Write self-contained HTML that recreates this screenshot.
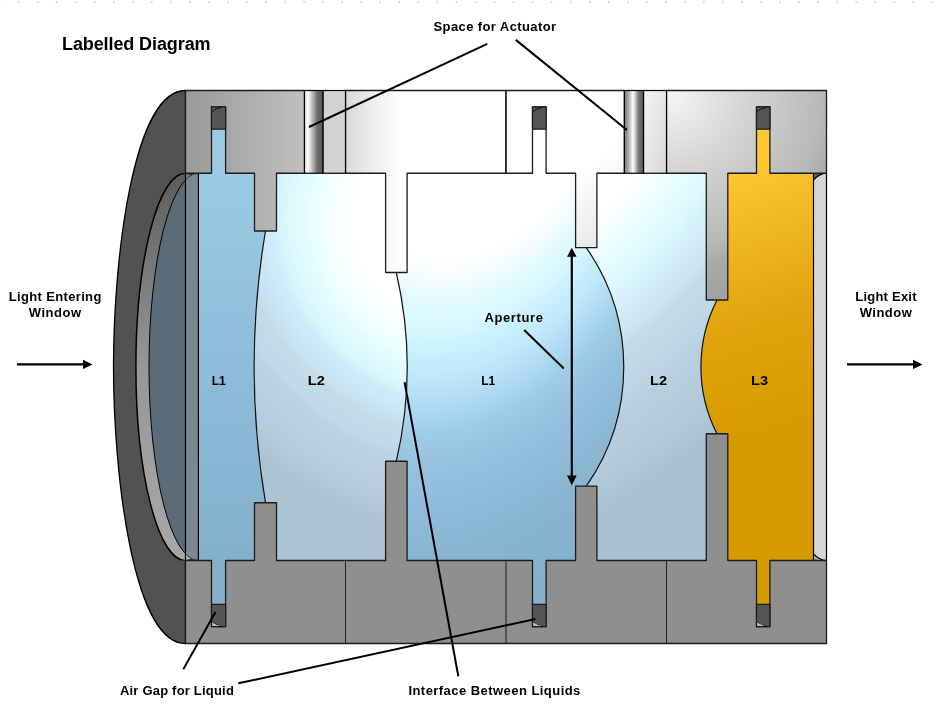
<!DOCTYPE html>
<html><head><meta charset="utf-8">
<style>
html,body{margin:0;padding:0;background:#fff;width:936px;height:720px;overflow:hidden}
svg{display:block;will-change:transform}
text{font-family:"Liberation Sans",sans-serif;font-weight:bold;fill:#000}
</style></head><body>
<svg width="936" height="720" viewBox="0 0 936 720">
<defs>
  <linearGradient id="gA" gradientUnits="userSpaceOnUse" x1="185.5" y1="0" x2="304.5" y2="0">
    <stop offset="0" stop-color="#999999"/>
    <stop offset="1" stop-color="#c0c0c0"/>
  </linearGradient>
  <linearGradient id="gB" gradientUnits="userSpaceOnUse" x1="345.5" y1="0" x2="402" y2="0">
    <stop offset="0" stop-color="#d8d8d8"/>
    <stop offset="0.5" stop-color="#eeeeee"/>
    <stop offset="1" stop-color="#ffffff"/>
  </linearGradient>
  <linearGradient id="gC" gradientUnits="userSpaceOnUse" x1="506" y1="90" x2="624" y2="250">
    <stop offset="0" stop-color="#ffffff"/>
    <stop offset="0.55" stop-color="#ffffff"/>
    <stop offset="1" stop-color="#e2e2e2"/>
  </linearGradient>
  <radialGradient id="gD" gradientUnits="userSpaceOnUse" cx="668" cy="92" r="215">
    <stop offset="0" stop-color="#f6f6f6"/>
    <stop offset="0.37" stop-color="#d4d4d4"/>
    <stop offset="0.73" stop-color="#b8b8b8"/>
    <stop offset="0.82" stop-color="#aaaaaa"/>
    <stop offset="1" stop-color="#a0a0a0"/>
  </radialGradient>
  <radialGradient id="gL1" gradientUnits="userSpaceOnUse" cx="0" cy="0" r="1" gradientTransform="translate(492,0) rotate(14.68) scale(432,752)">
    <stop offset="0" stop-color="#ffffff"/>
    <stop offset="0.35" stop-color="#ffffff"/>
    <stop offset="0.38" stop-color="#f4fcff"/>
    <stop offset="0.41" stop-color="#e2fbff"/>
    <stop offset="0.445" stop-color="#d8f8ff"/>
    <stop offset="0.48" stop-color="#c8f0fe"/>
    <stop offset="0.51" stop-color="#c0eafa"/>
    <stop offset="0.535" stop-color="#b6e0f6"/>
    <stop offset="0.56" stop-color="#acd8f0"/>
    <stop offset="0.59" stop-color="#a0cce6"/>
    <stop offset="0.625" stop-color="#98c4e0"/>
    <stop offset="0.67" stop-color="#92bedb"/>
    <stop offset="0.77" stop-color="#88b4d0"/>
    <stop offset="0.85" stop-color="#85b1cd"/>
    <stop offset="1" stop-color="#85b1cd"/>
  </radialGradient>
  <radialGradient id="gL2a" gradientUnits="userSpaceOnUse" cx="0" cy="0" r="1" gradientTransform="translate(455.16,227.3) rotate(-52.45) scale(299.3,321.7)">
    <stop offset="0" stop-color="#ffffff"/>
    <stop offset="0.32" stop-color="#ffffff"/>
    <stop offset="0.39" stop-color="#f6ffff"/>
    <stop offset="0.45" stop-color="#eaffff"/>
    <stop offset="0.48" stop-color="#e3fcff"/>
    <stop offset="0.505" stop-color="#e0faff"/>
    <stop offset="0.56" stop-color="#d8f4fc"/>
    <stop offset="0.585" stop-color="#d0ecfa"/>
    <stop offset="0.665" stop-color="#c8e1f0"/>
    <stop offset="0.69" stop-color="#c4dce8"/>
    <stop offset="0.76" stop-color="#c0d8e8"/>
    <stop offset="0.78" stop-color="#bcd4e2"/>
    <stop offset="0.92" stop-color="#b4ccdc"/>
    <stop offset="1" stop-color="#abc3d3"/>
  </radialGradient>
  <linearGradient id="gL1a" gradientUnits="userSpaceOnUse" x1="0" y1="173" x2="0" y2="560">
    <stop offset="0" stop-color="#9cc9e3"/>
    <stop offset="0.5" stop-color="#8fbcd8"/>
    <stop offset="1" stop-color="#84b0cc"/>
  </linearGradient>
  <radialGradient id="gL2b" gradientUnits="userSpaceOnUse" cx="0" cy="0" r="1" gradientTransform="translate(525,100) rotate(40) scale(460,690)">
    <stop offset="0" stop-color="#ffffff"/>
    <stop offset="0.29" stop-color="#ffffff"/>
    <stop offset="0.325" stop-color="#f4feff"/>
    <stop offset="0.376" stop-color="#e6fdff"/>
    <stop offset="0.42" stop-color="#def8fe"/>
    <stop offset="0.467" stop-color="#d4eefa"/>
    <stop offset="0.52" stop-color="#cce4f0"/>
    <stop offset="0.543" stop-color="#c4dce8"/>
    <stop offset="0.593" stop-color="#c0d8e6"/>
    <stop offset="0.648" stop-color="#b8d0e0"/>
    <stop offset="0.699" stop-color="#b4ccdc"/>
    <stop offset="0.752" stop-color="#b0c8d8"/>
    <stop offset="0.808" stop-color="#a8c0d0"/>
    <stop offset="1" stop-color="#a8c0d0"/>
  </radialGradient>
  <linearGradient id="gL3" gradientUnits="userSpaceOnUse" x1="720" y1="170" x2="800" y2="420">
    <stop offset="0" stop-color="#ffc733"/>
    <stop offset="0.6" stop-color="#e0a40c"/>
    <stop offset="1" stop-color="#d69b00"/>
  </linearGradient>
  <linearGradient id="gRing" gradientUnits="userSpaceOnUse" x1="0" y1="173" x2="0" y2="560">
    <stop offset="0" stop-color="#5c5c5c"/>
    <stop offset="0.5" stop-color="#979797"/>
    <stop offset="1" stop-color="#a8a8a8"/>
  </linearGradient>
  <linearGradient id="gAct1" x1="0" y1="0" x2="1" y2="0">
    <stop offset="0" stop-color="#dcdcdc"/>
    <stop offset="0.18" stop-color="#ffffff"/>
    <stop offset="0.35" stop-color="#d0d0d0"/>
    <stop offset="0.7" stop-color="#6e6e6e"/>
    <stop offset="1" stop-color="#555555"/>
  </linearGradient>
  <linearGradient id="gAct2" x1="0" y1="0" x2="1" y2="0">
    <stop offset="0" stop-color="#777777"/>
    <stop offset="0.2" stop-color="#a8a8a8"/>
    <stop offset="0.45" stop-color="#ffffff"/>
    <stop offset="0.75" stop-color="#777777"/>
    <stop offset="1" stop-color="#555555"/>
  </linearGradient>
  <linearGradient id="gGap2" x1="0" y1="0" x2="1" y2="1">
    <stop offset="0" stop-color="#f4f4f4"/>
    <stop offset="1" stop-color="#d8d8d8"/>
  </linearGradient>
  <clipPath id="clipL"><rect x="100" y="173.25" width="98.4" height="387.25"/></clipPath>
  <clipPath id="clipR"><rect x="813.5" y="173.25" width="13.1" height="387.25"/></clipPath>
</defs>

<!-- dotted top border -->
<line x1="0" y1="2.1" x2="936" y2="2.1" stroke="#c4c4c4" stroke-width="1.5" stroke-dasharray="1.5 17.54" stroke-dashoffset="-17.75"/>

<!-- title -->
<text x="62" y="50" font-size="18" letter-spacing="-0.1">Labelled Diagram</text>

<!-- cap -->
<path d="M185.5,90.5 C133,90.5 113.5,259.5 113.5,366.75 C113.5,474 133,643.5 185.5,643.5 Z" fill="#525252" stroke="#000" stroke-width="1.3" stroke-linejoin="round"/>

<!-- liquids -->
<path d="M185.5,100 H265.5 V231 A821,821 0 0 0 265.5,502.75 V636 H185.5 Z" fill="url(#gL1a)"/>
<path d="M265.5,100 H396.3 V272.5 A417,417 0 0 1 396.3,461.25 V636 H265.5 V502.75 A821,821 0 0 1 265.5,231 Z" fill="url(#gL2a)"/>
<path d="M396.3,100 H586.3 V247.7 A208.4,208.4 0 0 1 586.3,486.05 V636 H396.3 V461.25 A417,417 0 0 0 396.3,272.5 Z" fill="url(#gL1)"/>
<path d="M586.3,100 H717 V300 A147.2,147.2 0 0 0 717,433.75 V636 H586.3 V486.05 A208.4,208.4 0 0 0 586.3,247.7 Z" fill="url(#gL2b)"/>
<path d="M717,100 H813.5 V636 H717 V433.75 A147.2,147.2 0 0 1 717,300 Z" fill="url(#gL3)"/>

<!-- interface lines -->
<g fill="none" stroke="#111" stroke-width="1.2">
  <path d="M265.5,231 A821,821 0 0 0 265.5,502.75"/>
  <path d="M396.3,272.5 A417,417 0 0 1 396.3,461.25"/>
  <path d="M586.3,247.7 A208.4,208.4 0 0 1 586.3,486.05"/>
  <path d="M717,300 A147.2,147.2 0 0 0 717,433.75"/>
</g>

<!-- left window assembly -->
<g clip-path="url(#clipL)">
  <ellipse cx="185.5" cy="366.875" rx="49.6" ry="193.75" fill="url(#gRing)" stroke="#000" stroke-width="1.5"/>
  <ellipse cx="198.4" cy="366.875" rx="49.4" ry="193.75" fill="#5b6b77" stroke="#000" stroke-width="1"/>
</g>
<rect x="185.5" y="173.25" width="12.9" height="387.25" fill="#ffffff" fill-opacity="0.2" stroke="#000" stroke-width="1.2"/>

<!-- right window -->
<g clip-path="url(#clipR)">
  <rect x="813.5" y="173.25" width="13.1" height="387.25" fill="url(#gRing)"/>
  <ellipse cx="826.6" cy="366.875" rx="49.6" ry="193.75" fill="#d6d6d6" stroke="#000" stroke-width="1.2"/>
</g>
<line x1="813.5" y1="173.25" x2="813.5" y2="560.5" stroke="#000" stroke-width="1.2"/>
<line x1="826.5" y1="173.25" x2="826.5" y2="560.5" stroke="#000" stroke-width="1.2"/>

<!-- housing -->
<g stroke="#1c1c1c" stroke-width="1.3" stroke-linejoin="round">
  <path fill="url(#gA)" d="M185.5,90.5 H304.5 V173.25 H276.5 V231 H254.5 V173.25 H225.6 V106.8 H211.5 V173.25 H185.5 Z"/>
  <path fill="url(#gB)" d="M345.5,90.5 H506 V173.25 H407.1 V272.5 H385.6 V173.25 H345.5 Z"/>
  <path fill="url(#gC)" d="M506,90.5 H624.4 V173.25 H596.9 V247.7 H575.6 V173.25 H546.1 V106.8 H532.5 V173.25 H506 Z"/>
  <path fill="url(#gD)" d="M666.5,90.5 H826.5 V173.25 H769.9 V106.8 H756.5 V173.25 H727.8 V300 H706.3 V173.25 H666.5 Z"/>
  <path fill="#8f8f8f" d="M185.5,643.5 H826.5 V560.5 H769.9 V626.7 H756.5 V560.5 H727.8 V433.75 H706.3 V560.5 H596.9 V486.05 H575.6 V560.5 H546.1 V626.7 H532.5 V560.5 H407.1 V461.25 H385.6 V560.5 H276.5 V502.75 H254.5 V560.5 H225.6 V626.7 H211.5 V560.5 H185.5 Z"/>
</g>

<!-- actuator spaces -->
<rect x="322.9" y="90.5" width="22.6" height="82.75" fill="#d2d2d2" stroke="#000" stroke-width="1.2"/>
<rect x="304.5" y="90.5" width="18.4" height="82.75" fill="url(#gAct1)" stroke="#000" stroke-width="1.2"/>
<rect x="643.5" y="90.5" width="23" height="82.75" fill="url(#gGap2)" stroke="#000" stroke-width="1.2"/>
<rect x="624.4" y="90.5" width="19.1" height="82.75" fill="url(#gAct2)" stroke="#000" stroke-width="1.2"/>
<g stroke="#222" stroke-width="1.05">
  <line x1="506" y1="90.5" x2="506" y2="173.25"/>
  <line x1="345.5" y1="560.5" x2="345.5" y2="643.5"/>
  <line x1="506" y1="560.5" x2="506" y2="643.5"/>
  <line x1="666.5" y1="560.5" x2="666.5" y2="643.5"/>
</g>

<!-- air gaps in slots -->
<g fill="#555" stroke="#1c1c1c" stroke-width="1.2" stroke-linejoin="round">
  <rect x="211.5" y="106.8" width="14.1" height="22.4"/>
  <rect x="532.5" y="106.8" width="13.6" height="22.4"/>
  <rect x="756.5" y="106.8" width="13.4" height="22.4"/>
  <rect x="211.5" y="604.3" width="14.1" height="22.4"/>
  <rect x="532.5" y="604.3" width="13.6" height="22.4"/>
  <rect x="756.5" y="604.3" width="13.4" height="22.4"/>
</g>
<g fill="none" stroke="#000" stroke-width="0.8">
  <path d="M211.9,111.6 Q216,108.3 221.5,107.3"/>
  <path d="M532.9,111.6 Q537,108.3 542.5,107.3"/>
  <path d="M756.9,111.6 Q761,108.3 766.5,107.3"/>
  <path d="M211.9,621.9 Q216,625.2 221.5,626.2"/>
  <path d="M532.9,621.9 Q537,625.2 542.5,626.2"/>
  <path d="M756.9,621.9 Q761,625.2 766.5,626.2"/>
</g>
<g fill="#bdbdbd">
  <path d="M212.2,622.2 Q216,625.2 221.5,626.1 H212.2 Z"/>
  <path d="M533.2,622.2 Q537,625.2 542.5,626.1 H533.2 Z"/>
  <path d="M757.2,622.2 Q761,625.2 766.5,626.1 H757.2 Z"/>
</g>

<!-- arrows: light in/out -->
<g stroke="#000" stroke-width="2.2">
  <line x1="17" y1="364.4" x2="84" y2="364.4"/>
  <line x1="847" y1="364.4" x2="914" y2="364.4"/>
  <line x1="571.8" y1="255" x2="571.8" y2="477"/>
</g>
<g fill="#000">
  <path d="M92.5,364.4 L83,359.8 L83,369 Z"/>
  <path d="M922.5,364.4 L913,359.8 L913,369 Z"/>
  <path d="M571.8,247.7 L567,256.7 L576.6,256.7 Z"/>
  <path d="M571.8,485.5 L567,475.6 L576.6,475.6 Z"/>
</g>

<!-- leader lines -->
<g stroke="#000" stroke-width="2" fill="none">
  <line x1="487.3" y1="43.8" x2="309" y2="127"/>
  <line x1="515.8" y1="39.9" x2="627" y2="130"/>
  <line x1="215.5" y1="612" x2="183.3" y2="669.3"/>
  <line x1="238.3" y1="683.3" x2="535.5" y2="619"/>
  <line x1="458.3" y1="676.3" x2="404.6" y2="382.3"/>
  <line x1="524.2" y1="330" x2="563.8" y2="368.5"/>
</g>

<!-- labels -->
<g font-size="13" text-anchor="middle">
  <text x="495" y="31.4" letter-spacing="0.4">Space for Actuator</text>
  <text x="55.2" y="300.8" letter-spacing="0.35">Light Entering</text>
  <text x="55.2" y="316.8" letter-spacing="0.5">Window</text>
  <text x="886" y="300.8" letter-spacing="0.23">Light Exit</text>
  <text x="886" y="316.8" letter-spacing="0.5">Window</text>
  <text x="514" y="322" letter-spacing="0.6">Aperture</text>
  <text x="177" y="695" letter-spacing="0.2">Air Gap for Liquid</text>
  <text x="494.6" y="695" letter-spacing="0.45">Interface Between Liquids</text>
</g>
<g font-size="12" text-anchor="middle">
  <text x="218.7" y="384.7">L1</text>
  <text transform="translate(316.35,384.9) scale(1.18,1)" font-size="12.4">L2</text>
  <text x="488.2" y="384.7">L1</text>
  <text transform="translate(658.55,384.9) scale(1.18,1)" font-size="12.4">L2</text>
  <text transform="translate(759.55,384.9) scale(1.18,1)" font-size="12.4">L3</text>
</g>
</svg>
</body></html>
